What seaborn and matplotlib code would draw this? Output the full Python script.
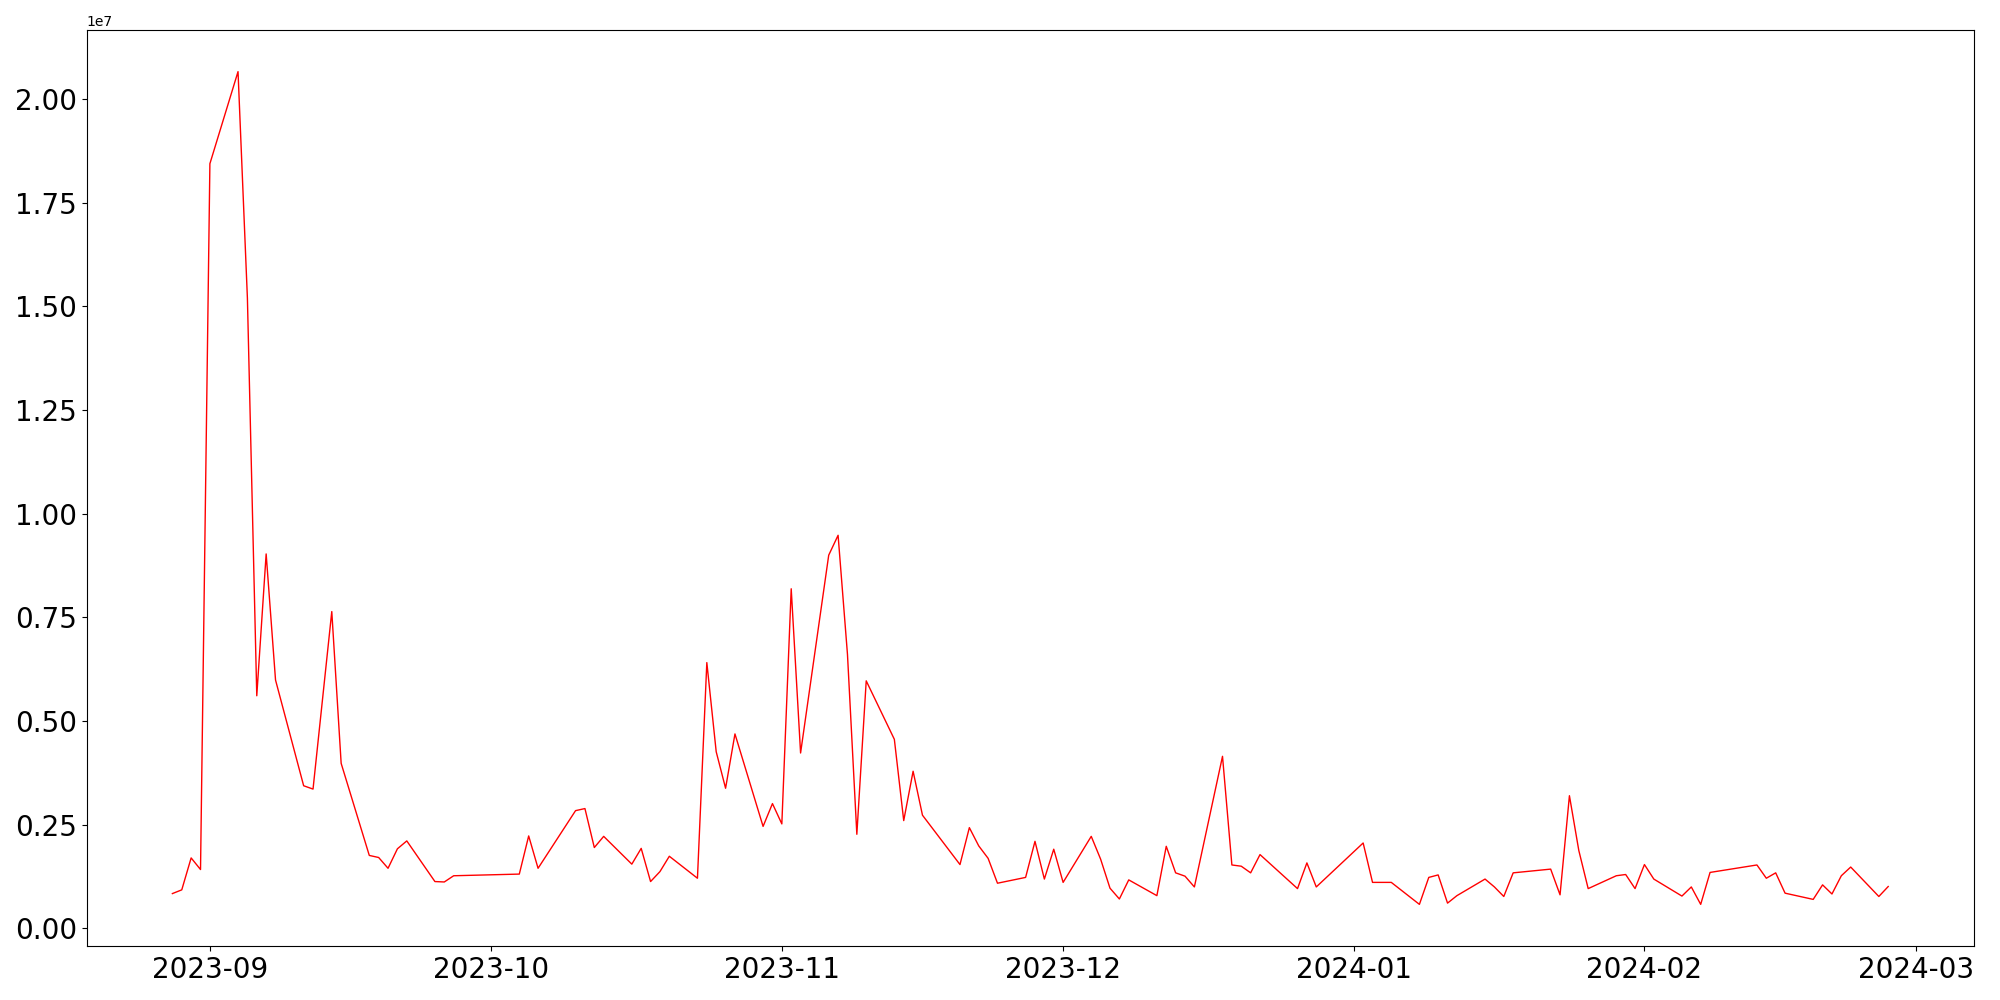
import pandas as pd
import seaborn as sns
import matplotlib.pyplot as plt

dates = [
    "2023-08-28", "2023-08-29", "2023-08-30", "2023-08-31", "2023-09-01",
    "2023-09-04", "2023-09-05", "2023-09-06", "2023-09-07", "2023-09-08",
    "2023-09-11", "2023-09-12", "2023-09-14", "2023-09-15",
    "2023-09-18", "2023-09-19", "2023-09-20", "2023-09-21", "2023-09-22",
    "2023-09-25", "2023-09-26", "2023-09-27",
    "2023-10-04", "2023-10-05", "2023-10-06",
    "2023-10-10", "2023-10-11", "2023-10-12", "2023-10-13",
    "2023-10-16", "2023-10-17", "2023-10-18", "2023-10-19", "2023-10-20",
    "2023-10-23", "2023-10-24", "2023-10-25", "2023-10-26", "2023-10-27",
    "2023-10-30", "2023-10-31", "2023-11-01", "2023-11-02", "2023-11-03",
    "2023-11-06", "2023-11-07", "2023-11-08", "2023-11-09", "2023-11-10",
    "2023-11-13", "2023-11-14", "2023-11-15", "2023-11-16",
    "2023-11-20", "2023-11-21", "2023-11-22", "2023-11-23", "2023-11-24",
    "2023-11-27", "2023-11-28", "2023-11-29", "2023-11-30", "2023-12-01",
    "2023-12-04", "2023-12-05", "2023-12-06", "2023-12-07", "2023-12-08",
    "2023-12-11", "2023-12-12", "2023-12-13", "2023-12-14", "2023-12-15",
    "2023-12-18", "2023-12-19", "2023-12-20", "2023-12-21", "2023-12-22",
    "2023-12-26", "2023-12-27", "2023-12-28",
    "2024-01-02", "2024-01-03", "2024-01-04", "2024-01-05",
    "2024-01-08", "2024-01-09", "2024-01-10", "2024-01-11", "2024-01-12",
    "2024-01-15", "2024-01-16", "2024-01-17", "2024-01-18",
    "2024-01-22", "2024-01-23", "2024-01-24", "2024-01-25", "2024-01-26",
    "2024-01-29", "2024-01-30", "2024-01-31", "2024-02-01", "2024-02-02",
    "2024-02-05", "2024-02-06", "2024-02-07", "2024-02-08",
    "2024-02-13", "2024-02-14", "2024-02-15", "2024-02-16",
    "2024-02-19", "2024-02-20", "2024-02-21", "2024-02-22", "2024-02-23",
    "2024-02-26", "2024-02-27",
]

# values in units of 1e7
volume = [
    0.084, 0.093, 0.170, 0.142, 1.844,
    2.066, 1.520, 0.561, 0.903, 0.599,
    0.344, 0.336, 0.764, 0.398,
    0.176, 0.171, 0.145, 0.192, 0.211,
    0.113, 0.112, 0.127,
    0.131, 0.223, 0.145,
    0.284, 0.289, 0.195, 0.222,
    0.155, 0.193, 0.113, 0.137, 0.174,
    0.121, 0.641, 0.426, 0.338, 0.469,
    0.246, 0.301, 0.252, 0.819, 0.423,
    0.900, 0.948, 0.661, 0.227, 0.597,
    0.456, 0.260, 0.379, 0.273,
    0.154, 0.243, 0.199, 0.169, 0.109,
    0.123, 0.210, 0.119, 0.191, 0.111,
    0.222, 0.167, 0.097, 0.071, 0.117,
    0.079, 0.198, 0.134, 0.126, 0.100,
    0.415, 0.153, 0.150, 0.134, 0.178,
    0.096, 0.158, 0.100,
    0.206, 0.111, 0.111, 0.111,
    0.058, 0.123, 0.129, 0.061, 0.079,
    0.119, 0.100, 0.077, 0.134,
    0.143, 0.081, 0.320, 0.188, 0.096,
    0.127, 0.130, 0.096, 0.154, 0.119,
    0.078, 0.100, 0.058, 0.135,
    0.153, 0.121, 0.134, 0.085,
    0.070, 0.105, 0.083, 0.127, 0.148,
    0.077, 0.101,
]

df = pd.DataFrame({"date": pd.to_datetime(dates), "volume": [v * 1e7 for v in volume]})

fig, ax = plt.subplots(figsize=(20, 10), dpi=100)
sns.lineplot(x="date", y="volume", data=df, color="red", linewidth=1, ax=ax)
ax.set_xlabel("")
ax.set_ylabel("")
ax.tick_params(axis="both", labelsize=20)
plt.subplots_adjust(left=0.0433, right=0.987, top=0.970, bottom=0.054)
plt.savefig("out.png")
